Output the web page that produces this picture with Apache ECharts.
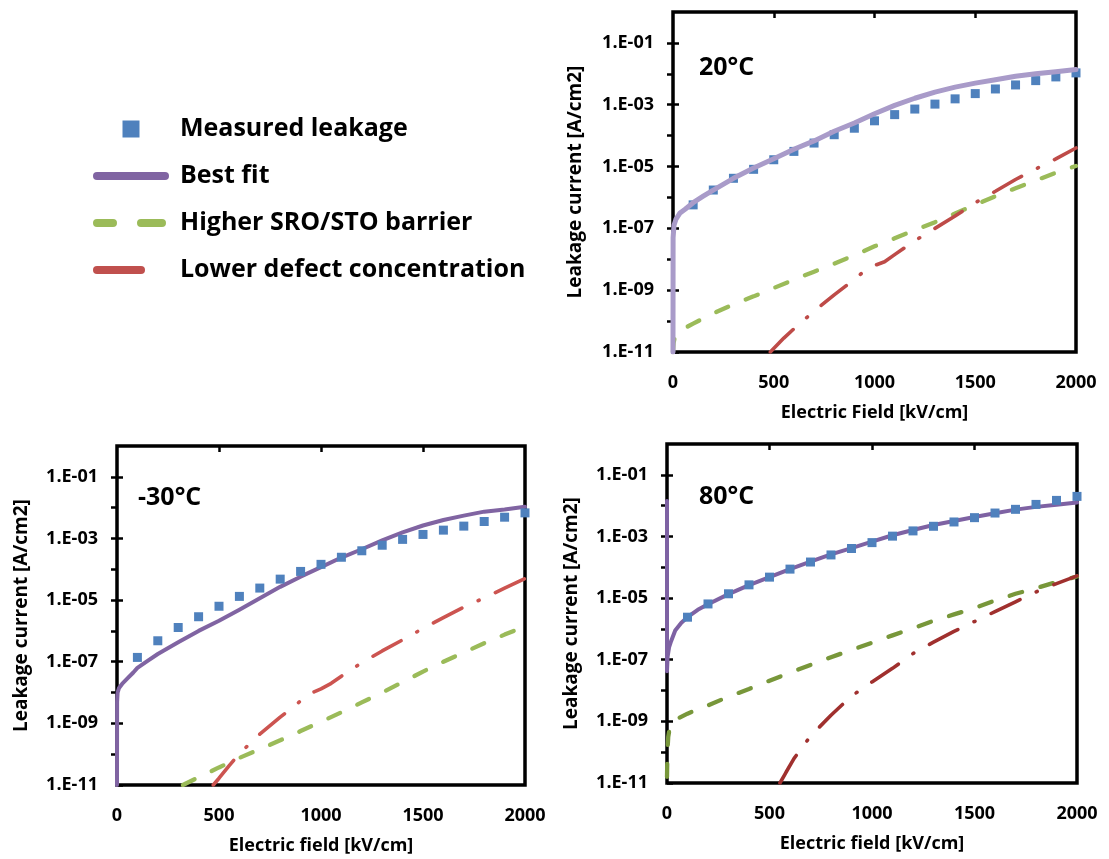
<!DOCTYPE html>
<html>
<head>
<meta charset="utf-8">
<script src="https://cdn.jsdelivr.net/npm/echarts@6/dist/echarts.min.js"></script>
<style>
  html, body { margin: 0; padding: 0; background: #fff; }
  #chart { width: 1109px; height: 859px; }
</style>
</head>
<body>
<div id="chart"></div>
<script>
// Leakage current density vs. electric field at three temperatures.
// Field values in kV/cm; current values stored as log10 of A/cm2.

const measuredField = [100, 200, 300, 400, 500, 600, 700, 800, 900, 1000,
                       1100, 1200, 1300, 1400, 1500, 1600, 1700, 1800, 1900, 2000];

// ---- 20 °C ----
const measured20 = [-6.24, -5.76, -5.38, -5.09, -4.78, -4.51, -4.24, -3.97, -3.76, -3.52,
                    -3.32, -3.14, -2.98, -2.81, -2.64, -2.49, -2.36, -2.22, -2.10, -1.97];
const fitField20 = [0, 0.5, 5, 15, 35, 60, 100, 150, 200, 300, 400, 500, 600, 700, 800, 900,
                    1000, 1100, 1200, 1300, 1400, 1500, 1600, 1700, 1800, 1900, 2000];
const fit20 = [-11, -7.3, -6.9, -6.7, -6.5, -6.38, -6.17, -5.96, -5.76, -5.38, -5.05, -4.75,
               -4.44, -4.17, -3.86, -3.59, -3.29, -3.02, -2.79, -2.59, -2.43, -2.30, -2.19,
               -2.08, -2.00, -1.93, -1.86];
const barrierField20 = [0, 3, 10, 30, 60, 100, 200, 300, 400, 500, 600, 700, 800, 900, 1000,
                        1100, 1200, 1300, 1400, 1500, 1600, 1700, 1800, 1900, 2000];
const barrier20 = [-11, -10.7, -10.5, -10.35, -10.22, -10.08, -9.75, -9.46, -9.2, -8.93, -8.66,
                   -8.4, -8.14, -7.87, -7.58, -7.32, -7.06, -6.8, -6.52, -6.24, -5.96, -5.7,
                   -5.45, -5.2, -4.98];
const defectField20 = [483, 550, 600, 700, 800, 900, 950, 1000, 1050, 1100, 1200, 1300, 1400,
                       1500, 1600, 1700, 1800, 1900, 2000];
const defect20 = [-11, -10.55, -10.25, -9.68, -9.15, -8.65, -8.38, -8.2, -8.08, -7.85, -7.4,
                  -7.0, -6.6, -6.17, -5.8, -5.42, -5.08, -4.75, -4.4];

// ---- -30 °C ----
const measuredM30 = [-6.86, -6.32, -5.89, -5.54, -5.20, -4.88, -4.61, -4.32, -4.07, -3.84,
                     -3.61, -3.40, -3.22, -3.03, -2.87, -2.73, -2.60, -2.45, -2.31, -2.17];
const fitFieldM30 = [0, 0.5, 3, 10, 25, 50, 80, 100, 150, 200, 300, 400, 500, 600, 700, 800,
                     900, 1000, 1100, 1200, 1300, 1400, 1500, 1600, 1700, 1800, 1900, 2000];
const fitM30 = [-11, -8.3, -8.0, -7.85, -7.72, -7.55, -7.35, -7.2, -6.97, -6.75, -6.37, -6.0,
                -5.67, -5.31, -4.94, -4.57, -4.24, -3.93, -3.62, -3.35, -3.06, -2.80, -2.58,
                -2.40, -2.26, -2.13, -2.06, -1.97];
const barrierFieldM30 = [323, 400, 500, 600, 700, 800, 900, 1000, 1100, 1200, 1300, 1400,
                         1500, 1600, 1700, 1800, 1900, 2000];
const barrierM30 = [-11, -10.75, -10.43, -10.12, -9.84, -9.55, -9.25, -8.95, -8.64, -8.32,
                    -8.0, -7.66, -7.32, -7.0, -6.7, -6.4, -6.12, -5.85];
const defectFieldM30 = [472, 500, 550, 600, 700, 800, 900, 950, 1000, 1050, 1100, 1200, 1300,
                        1400, 1500, 1600, 1700, 1800, 1900, 2000];
const defectM30 = [-11, -10.78, -10.37, -9.98, -9.35, -8.8, -8.27, -8.02, -7.88, -7.7, -7.47,
                   -7.03, -6.65, -6.29, -5.92, -5.57, -5.23, -4.93, -4.61, -4.3];

// ---- 80 °C ----
const measured80 = [-5.62, -5.19, -4.86, -4.57, -4.32, -4.06, -3.83, -3.60, -3.39, -3.20,
                    -2.99, -2.82, -2.67, -2.53, -2.39, -2.24, -2.12, -1.96, -1.83, -1.70];
const fitField80 = [0, 0, 3, 10, 20, 40, 70, 100, 150, 200, 300, 400, 500, 600, 700, 800, 900,
                    1000, 1100, 1200, 1300, 1400, 1500, 1600, 1700, 1800, 1900, 2000];
const fit80 = [-1.85, -7.37, -6.9, -6.6, -6.4, -6.05, -5.8, -5.62, -5.38, -5.2, -4.87, -4.58,
               -4.32, -4.06, -3.82, -3.58, -3.38, -3.17, -2.96, -2.79, -2.63, -2.5, -2.37,
               -2.25, -2.13, -2.04, -1.97, -1.9];
const barrierField80 = [0, 2, 6, 15, 40, 100, 200, 300, 400, 500, 600, 700, 800, 900, 1000,
                        1100, 1200, 1300, 1400, 1500, 1600, 1700, 1800, 1900, 2000];
const barrier80 = [-10.8, -10.0, -9.5, -9.15, -8.95, -8.75, -8.48, -8.2, -7.95, -7.68, -7.42,
                   -7.17, -6.92, -6.68, -6.45, -6.21, -5.98, -5.74, -5.53, -5.32, -5.08, -4.86,
                   -4.68, -4.48, -4.3];
const defectField80 = [551, 580, 620, 700, 800, 900, 1000, 1100, 1200, 1300, 1400, 1500, 1600,
                       1700, 1800, 1900, 2000];
const defect80 = [-11, -10.66, -10.2, -9.48, -8.8, -8.18, -7.72, -7.28, -6.8, -6.43, -6.08,
                  -5.76, -5.44, -5.12, -4.8, -4.53, -4.28];

// Axis tick positions (decades) and labelled decades
const decadeExponents = [-11, -10, -9, -8, -7, -6, -5, -4, -3, -2, -1, 0];
const labelExponents = [-11, -9, -7, -5, -3, -1];
const fieldTicks = [0, 500, 1000, 1500, 2000];

const NAME_MEASURED = 'Measured leakage';
const NAME_FIT = 'Best fit';
const NAME_BARRIER = 'Higher SRO/STO barrier';
const NAME_DEFECT = 'Lower defect concentration';

const FONT = '"Open Sans", Lato, "DejaVu Sans", sans-serif';
const BLUE = '#4F81BD';
const DASH_BARRIER = [13, 19];
const DASH_DEFECT = [32, 18, 1, 18];

const pairs = (xs, logs) => xs.map((x, i) => [x, Math.pow(10, logs[i])]);
const pow10 = e => Math.pow(10, e);
const sciLabel = v => {
  const e = Math.round(Math.log10(v));
  return '1.E' + (e < 0 ? '-' : '+') + String(Math.abs(e)).padStart(2, '0');
};

const panels = [
  {
    temp: '20°C', xName: 'Electric Field [kV/cm]',
    grid: { left: 673, top: 12, width: 403, height: 340 },
    tempPos: { left: 699, top: 51 }, yNameGap: 88,
    measured: measured20,
    fit: [fitField20, fit20], barrier: [barrierField20, barrier20], defect: [defectField20, defect20],
    fitColor: '#A99BC9', fitWidth: 5, fitOnTop: true,
    barrierColor: '#9BBB59', defectColor: '#BE4B48'
  },
  {
    temp: '-30°C', xName: 'Electric field [kV/cm]',
    grid: { left: 117, top: 446, width: 408, height: 339 },
    tempPos: { left: 138, top: 481 }, yNameGap: 86,
    measured: measuredM30,
    fit: [fitFieldM30, fitM30], barrier: [barrierFieldM30, barrierM30], defect: [defectFieldM30, defectM30],
    fitColor: '#8064A2', fitWidth: 4, fitOnTop: false,
    barrierColor: '#9BBB59', defectColor: '#CC5450'
  },
  {
    temp: '80°C', xName: 'Electric field [kV/cm]',
    grid: { left: 667, top: 444, width: 410, height: 339 },
    tempPos: { left: 699, top: 480 }, yNameGap: 86,
    measured: measured80,
    fit: [fitField80, fit80], barrier: [barrierField80, barrier80], defect: [defectField80, defect80],
    fitColor: '#7E62A3', fitWidth: 4, fitOnTop: false,
    barrierColor: '#78973A', defectColor: '#A0302E'
  }
];

const tickStyle = { show: true, inside: true, length: 6, lineStyle: { color: '#000', width: 2.5 } };
const labelFont = { fontFamily: FONT, fontWeight: 'bold', fontSize: 18, color: '#000' };
const xNameFont = { fontFamily: FONT, fontWeight: 'bold', fontSize: 18, color: '#000' };
const yNameFont = { fontFamily: FONT, fontWeight: 'bold', fontSize: 19, color: '#000' };

const grids = [], xAxes = [], yAxes = [], series = [], titles = [];

panels.forEach((p, i) => {
  grids.push(Object.assign({ show: true, borderColor: '#000', borderWidth: 3.5,
                             backgroundColor: 'transparent', containLabel: false }, p.grid));
  // bottom axis with labels and title
  xAxes.push({
    type: 'value', gridIndex: i, position: 'bottom', min: 0, max: 2000, interval: 500,
    axisLine: { show: false }, axisTick: { show: false }, splitLine: { show: false },
    axisLabel: Object.assign({ margin: 22, formatter: v => String(v) }, labelFont),
    name: p.xName, nameLocation: 'middle', nameGap: 52, nameTextStyle: xNameFont
  });
  // top axis carrying the tick marks
  xAxes.push({
    type: 'value', gridIndex: i, position: 'top', min: 0, max: 2000, interval: 500,
    axisLine: { show: false }, axisLabel: { show: false }, splitLine: { show: false },
    axisTick: Object.assign({ customValues: fieldTicks.slice(1, -1) }, tickStyle)
  });
  // left log axis with labels on odd decades
  yAxes.push({
    type: 'log', logBase: 10, gridIndex: i, position: 'left', min: pow10(-11), max: 1,
    axisLine: { show: false }, splitLine: { show: false }, minorTick: { show: false },
    axisTick: Object.assign({ customValues: labelExponents.map(pow10) }, tickStyle),
    axisLabel: Object.assign({ margin: 19, customValues: labelExponents.map(pow10), formatter: sciLabel }, labelFont),
    name: 'Leakage current [A/cm2]', nameLocation: 'middle', nameRotate: 90, nameGap: p.yNameGap,
    nameTextStyle: yNameFont
  });
  // right log axis with a tick every decade
  yAxes.push({
    type: 'log', logBase: 10, gridIndex: i, position: 'right', min: pow10(-11), max: 1,
    axisLine: { show: false }, splitLine: { show: false }, axisLabel: { show: false },
    axisTick: Object.assign({ customValues: decadeExponents.slice(1, -1).map(pow10) }, tickStyle)
  });

  const xi = i * 2, yi = i * 2;
  series.push({
    name: NAME_MEASURED, type: 'scatter', xAxisIndex: xi, yAxisIndex: yi,
    symbol: 'rect', symbolSize: 9, itemStyle: { color: BLUE, opacity: 1 }, z: p.fitOnTop ? 3 : 5,
    data: pairs(measuredField, p.measured)
  });
  series.push({
    name: NAME_FIT, type: 'line', xAxisIndex: xi, yAxisIndex: yi, symbol: 'none',
    lineStyle: { color: p.fitColor, width: p.fitWidth, cap: 'round', join: 'round' },
    itemStyle: { color: p.fitColor }, z: 4, data: pairs(p.fit[0], p.fit[1])
  });
  series.push({
    name: NAME_BARRIER, type: 'line', xAxisIndex: xi, yAxisIndex: yi, symbol: 'none',
    lineStyle: { color: p.barrierColor, width: 4.3, type: DASH_BARRIER, cap: 'round' },
    itemStyle: { color: p.barrierColor }, z: 2, data: pairs(p.barrier[0], p.barrier[1])
  });
  series.push({
    name: NAME_DEFECT, type: 'line', xAxisIndex: xi, yAxisIndex: yi, symbol: 'none',
    lineStyle: { color: p.defectColor, width: 3.6, type: DASH_DEFECT, cap: 'round' },
    itemStyle: { color: p.defectColor }, z: 2, data: pairs(p.defect[0], p.defect[1])
  });

  titles.push({
    text: p.temp, left: p.tempPos.left, top: p.tempPos.top, padding: 0,
    textStyle: { fontFamily: FONT, fontWeight: 'bold', fontSize: 25, color: '#000', lineHeight: 34 }
  });
});

const chart = echarts.init(document.getElementById('chart'), null, { renderer: 'canvas' });
chart.setOption({
  animation: false,
  backgroundColor: '#fff',
  title: titles,
  legend: {
    orient: 'vertical', left: 93, top: 114, padding: 0,
    itemWidth: 68, itemHeight: 17, itemGap: 17,
    selectedMode: false, symbolKeepAspect: true,
    textStyle: { fontFamily: FONT, fontWeight: 'bold', fontSize: 25, color: '#000',
                 lineHeight: 30, padding: [0, 0, 0, 10] },
    data: [
      { name: NAME_MEASURED, icon: 'path://M0,0L10,0L10,10L0,10Z', itemStyle: { color: BLUE, opacity: 1 } },
      { name: NAME_FIT, itemStyle: { opacity: 0 },
        lineStyle: { color: '#8064A2', width: 8, type: 'solid', cap: 'round' } },
      { name: NAME_BARRIER, itemStyle: { opacity: 0 },
        lineStyle: { color: '#9BBB59', width: 8, type: [16, 28, 21, 100], cap: 'round' } },
      { name: NAME_DEFECT, itemStyle: { opacity: 0 },
        lineStyle: { color: '#C0504D', width: 8, type: [44, 200], cap: 'round' } }
    ]
  },
  grid: grids,
  xAxis: xAxes,
  yAxis: yAxes,
  series: series
});
</script>
</body>
</html>
